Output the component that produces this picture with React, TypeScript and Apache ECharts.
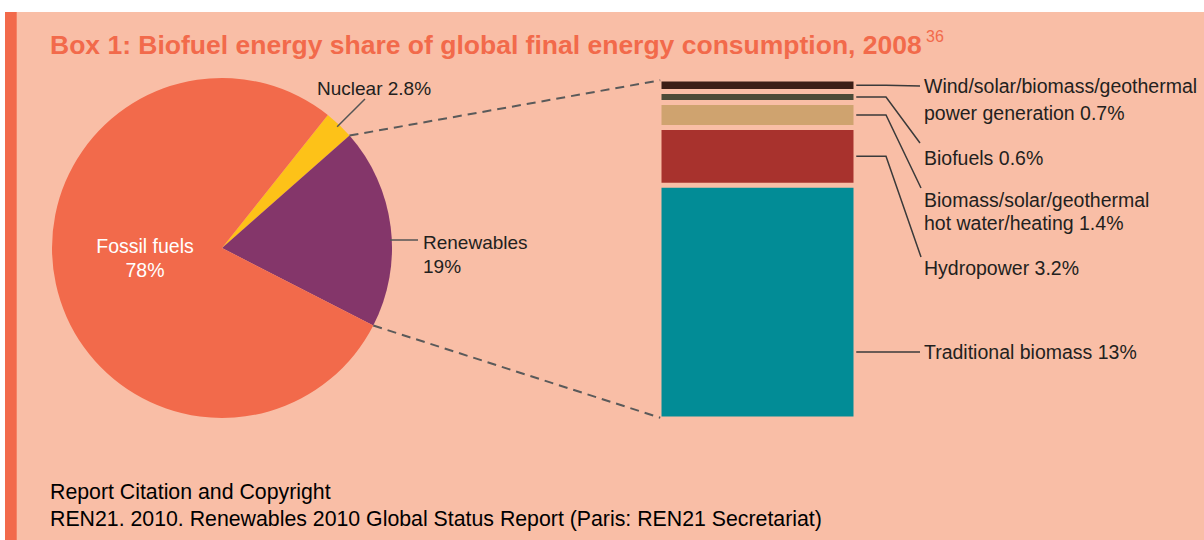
import React, { useEffect, useRef } from 'react';
import * as echarts from 'echarts';

const pieNames = ['Nuclear', 'Renewables', 'Fossil fuels'];
const pieValues = [2.8, 19, 78];
const pieColors = ['#FDC218', '#84366A', '#F26A4B'];

const barCategories = ['Renewables 2008'];
const barNames = [
  'Traditional biomass',
  'Hydropower',
  'Biomass/solar/geothermal\nhot water/heating',
  'Biofuels',
  'Wind/solar/biomass/geothermal\npower generation',
];
const barValues = [13, 3.2, 1.4, 0.6, 0.7];
const barColors = ['#028C96', '#A8322D', '#CFA36F', '#4B4B38', '#3B1E16'];

const titleText = 'Box 1: Biofuel energy share of global final energy consumption, 2008';
const titleNote = '36';
const footerLines = [
  'Report Citation and Copyright',
  'REN21. 2010. Renewables 2010 Global Status Report (Paris: REN21 Secretariat)',
];

const BG = '#F9BEA6';
const ORANGE = '#F26A4B';
const TEXT = '#231F20';
const FONT = '"Liberation Sans", Arial, sans-serif';

const PIE_CX = 222;
const PIE_CY = 248;
const PIE_R = 170;
const START = 51.5;

const GRID = { left: 659, top: 79, width: 197, height: 340 };
const GAP = 2.5;

function txt(x: number, y: number, text: string, opts: any = {}) {
  const align = opts.align || 'left';
  return {
    type: 'text',
    x,
    y,
    z: 10,
    style: {
      text,
      fill: opts.fill || TEXT,
      fontSize: opts.size || 19,
      fontWeight: opts.weight || 'normal',
      fontFamily: FONT,
      align,
      textAlign: align,
      verticalAlign: 'middle',
      textVerticalAlign: 'middle',
    },
  };
}

export default function App() {
  const ref = useRef<HTMLDivElement>(null);

  useEffect(() => {
    document.body.style.margin = '0';
    if (!ref.current) return;
    const chart = echarts.init(ref.current, undefined, { renderer: 'svg' });
    const total = barValues.reduce((a, b) => a + b, 0);

    chart.setOption({
      animation: false,
      backgroundColor: BG,
      grid: { ...GRID, containLabel: false },
      xAxis: { type: 'category', data: barCategories, show: false },
      yAxis: { type: 'value', min: 0, max: total, show: false, splitLine: { show: false } },
      series: [
        {
          type: 'pie',
          center: [PIE_CX, PIE_CY],
          radius: PIE_R,
          startAngle: START,
          clockwise: true,
          label: { show: false },
          labelLine: { show: false },
          emphasis: { disabled: true },
          itemStyle: { borderWidth: 0 },
          data: pieNames.map((n, i) => ({ name: n, value: pieValues[i], itemStyle: { color: pieColors[i] } })),
        },
        ...barNames.map((n, i) => ({
          type: 'bar',
          name: n,
          stack: 'ren',
          barWidth: '100%',
          data: [barValues[i]],
          itemStyle: { color: barColors[i], borderColor: BG, borderWidth: GAP },
          emphasis: { disabled: true },
        })),
      ],
    });

    let cum = 0;
    const mids: number[] = [];
    barValues.forEach((v) => {
      mids.push(chart.convertToPixel({ yAxisIndex: 0 }, cum + v / 2) as number);
      cum += v;
    });
    const barTop = (chart.convertToPixel({ yAxisIndex: 0 }, total) as number) + GAP / 2;
    const barBottom = (chart.convertToPixel({ yAxisIndex: 0 }, 0) as number) - GAP / 2;
    const barLeft = GRID.left + GAP / 2;
    const barRight = GRID.left + GRID.width - GAP / 2;

    const pieSum = pieValues.reduce((a, b) => a + b, 0);
    const renStart = START - (pieValues[0] / pieSum) * 360;
    const renEnd = renStart - (pieValues[1] / pieSum) * 360;
    const pt = (deg: number, r: number) => [
      PIE_CX + r * Math.cos((deg * Math.PI) / 180),
      PIE_CY - r * Math.sin((deg * Math.PI) / 180),
    ];
    const p1 = pt(renStart, PIE_R);
    const p2 = pt(renEnd, PIE_R);
    const nucMid = pt(START - (pieValues[0] / pieSum) * 180, PIE_R);

    const rightLayout = [
      { lines: [352], anchor: 352, end: [920, 352] },
      { lines: [268], end: [921, 257] },
      { lines: [200, 223], end: [921, 188] },
      { lines: [158], end: [920, 143] },
      { lines: [86, 113], end: [920, 86] },
    ];

    const graphics: any[] = [
      { type: 'rect', shape: { x: 0, y: 0, width: 1204, height: 12 }, style: { fill: '#ffffff' }, z: 5 },
      { type: 'rect', shape: { x: 0, y: 0, width: 5, height: 540 }, style: { fill: '#ffffff' }, z: 5 },
      { type: 'rect', shape: { x: 5, y: 12, width: 11.7, height: 528 }, style: { fill: ORANGE }, z: 5 },
      txt(50, 45, titleText, { fill: ORANGE, size: 26.5, weight: 'bold' }),
      txt(926, 36, titleNote, { fill: ORANGE, size: 16 }),
      txt(50, 492, footerLines[0], { fill: '#000', size: 21.3 }),
      txt(50, 519, footerLines[1], { fill: '#000', size: 21.3 }),
      {
        type: 'line', z: 10,
        shape: { x1: p1[0], y1: p1[1], x2: barLeft, y2: barTop },
        style: { stroke: '#5A5A5A', lineWidth: 2, lineDash: [9, 6] },
      },
      {
        type: 'line', z: 10,
        shape: { x1: p2[0], y1: p2[1], x2: barLeft, y2: barBottom },
        style: { stroke: '#5A5A5A', lineWidth: 2, lineDash: [9, 6] },
      },
      {
        type: 'line', z: 10,
        shape: { x1: nucMid[0] - 2, y1: nucMid[1] + 2, x2: 365, y2: 99 },
        style: { stroke: '#555', lineWidth: 1.5 },
      },
      txt(317, 88, `${pieNames[0]} ${pieValues[0]}%`),
      {
        type: 'line', z: 10,
        shape: { x1: 390, y1: 240, x2: 418, y2: 240 },
        style: { stroke: '#555', lineWidth: 1.5 },
      },
      txt(423, 242, pieNames[1]),
      txt(423, 266, `${pieValues[1]}%`),
      txt(145, 246, pieNames[2], { fill: '#ffffff', size: 19.5, align: 'center' }),
      txt(145, 270, `${pieValues[2]}%`, { fill: '#ffffff', size: 19.5, align: 'center' }),
    ];

    rightLayout.forEach((lay, i) => {
      const ay = lay.anchor !== undefined ? lay.anchor : mids[i];
      const x0 = barRight + 1.5;
      const pts = lay.anchor !== undefined
        ? [[x0, ay], lay.end]
        : [[x0, ay], [886, ay], lay.end];
      graphics.push({
        type: 'polyline', z: 10,
        shape: { points: pts },
        style: { stroke: '#3A3A3A', lineWidth: 1.5, fill: null },
      });
      const label = `${barNames[i]} ${barValues[i]}%`.split('\n');
      label.forEach((ln, k) => graphics.push(txt(924, lay.lines[k], ln, { size: 19.5 })));
    });

    chart.setOption({ graphic: { elements: graphics } });

    return () => chart.dispose();
  }, []);

  return <div ref={ref} style={{ width: 1204, height: 540 }} />;
}
